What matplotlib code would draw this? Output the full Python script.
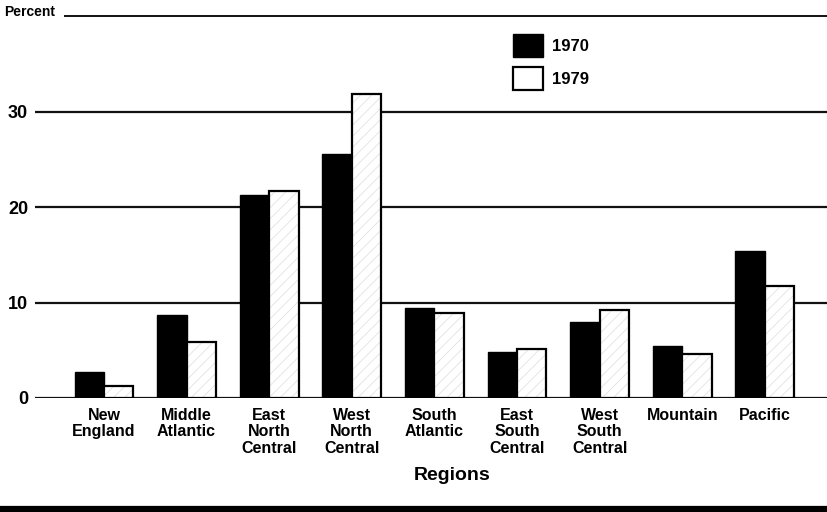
import matplotlib
matplotlib.use("Agg")
import matplotlib.pyplot as plt
from matplotlib.patches import Patch
from matplotlib.lines import Line2D
import numpy as np

# Datos (porcentaje por region)
regiones = ["New\nEngland", "Middle\nAtlantic", "East\nNorth\nCentral", "West\nNorth\nCentral",
            "South\nAtlantic", "East\nSouth\nCentral", "West\nSouth\nCentral", "Mountain", "Pacific"]
valores1970 = [2.7, 8.7, 21.3, 25.6, 9.4, 4.8, 8.0, 5.4, 15.4]
valores1979 = [1.3, 5.9, 21.7, 31.8, 8.9, 5.1, 9.2, 4.6, 11.7]
ticksY = [0, 10, 20, 30]
leyenda = ["1970", "1979"]

plt.rcParams["font.family"] = ["Liberation Sans", "DejaVu Sans"]
plt.rcParams["font.weight"] = "bold"
plt.rcParams["hatch.linewidth"] = 0.5

W, H = 827, 512
fig = plt.figure(figsize=(W / 100, H / 100), dpi=100)
ax = fig.add_axes([35 / W, (H - 398) / H, (W - 35) / W, (398 - 16) / H])

x = np.arange(len(regiones))
ancho = 0.355

# lineas horizontales de referencia
for v in ticksY:
    ax.axhline(v, color="#111111", linewidth=1.6, zorder=1)
ax.axhline(40, xmin=(65 - 35) / (W - 35), color="#111111", linewidth=1.4, zorder=1, clip_on=False)

ax.bar(x - ancho / 2, valores1970, ancho, color="black", edgecolor="black", linewidth=1.0, zorder=3)
# textura tenue de la trama para 1979
ax.bar(x + ancho / 2, valores1979, ancho, color="white", edgecolor="#dddddd", hatch="///",
       linewidth=0, zorder=3)
ax.bar(x + ancho / 2, valores1979, ancho, fill=False, edgecolor="black", linewidth=1.6, zorder=4)

ax.set_xlim(-0.835, 8.753)
ax.set_ylim(0, 40)
for s in ax.spines.values():
    s.set_visible(False)

ax.set_yticks(ticksY)
ax.set_yticklabels([str(v) for v in ticksY], fontsize=13, fontweight="bold")
ax.tick_params(axis="y", length=0, pad=5)
ax.set_xticks(x)
ax.set_xticklabels(regiones, fontsize=11.5, fontweight="bold", linespacing=1.13)
ax.tick_params(axis="x", length=0, pad=7)

fig.text(4 / W, 1 - 12 / H, "Percent", fontsize=10, fontweight="bold", ha="left", va="center")
fig.text(452 / W, 1 - 476 / H, "Regions", fontsize=14, fontweight="bold", ha="center", va="center")

manejadores = [Patch(facecolor="black", edgecolor="black", linewidth=1.0),
               Patch(facecolor="white", edgecolor="black", linewidth=1.6)]
ax.legend(manejadores, leyenda, loc="upper left", bbox_to_anchor=(513 / W, 1 - 34 / H),
          bbox_transform=fig.transFigure, frameon=False, borderpad=0, borderaxespad=0,
          handlelength=1.8, handleheight=1.75, handletextpad=0.55, labelspacing=0.6,
          prop={"size": 12, "weight": "bold"})

# barra gruesa inferior
fig.add_artist(Line2D([0, 1], [3 / H, 3 / H], color="black", linewidth=4.5, transform=fig.transFigure))

fig.savefig("out.png", dpi=100, facecolor="white")
